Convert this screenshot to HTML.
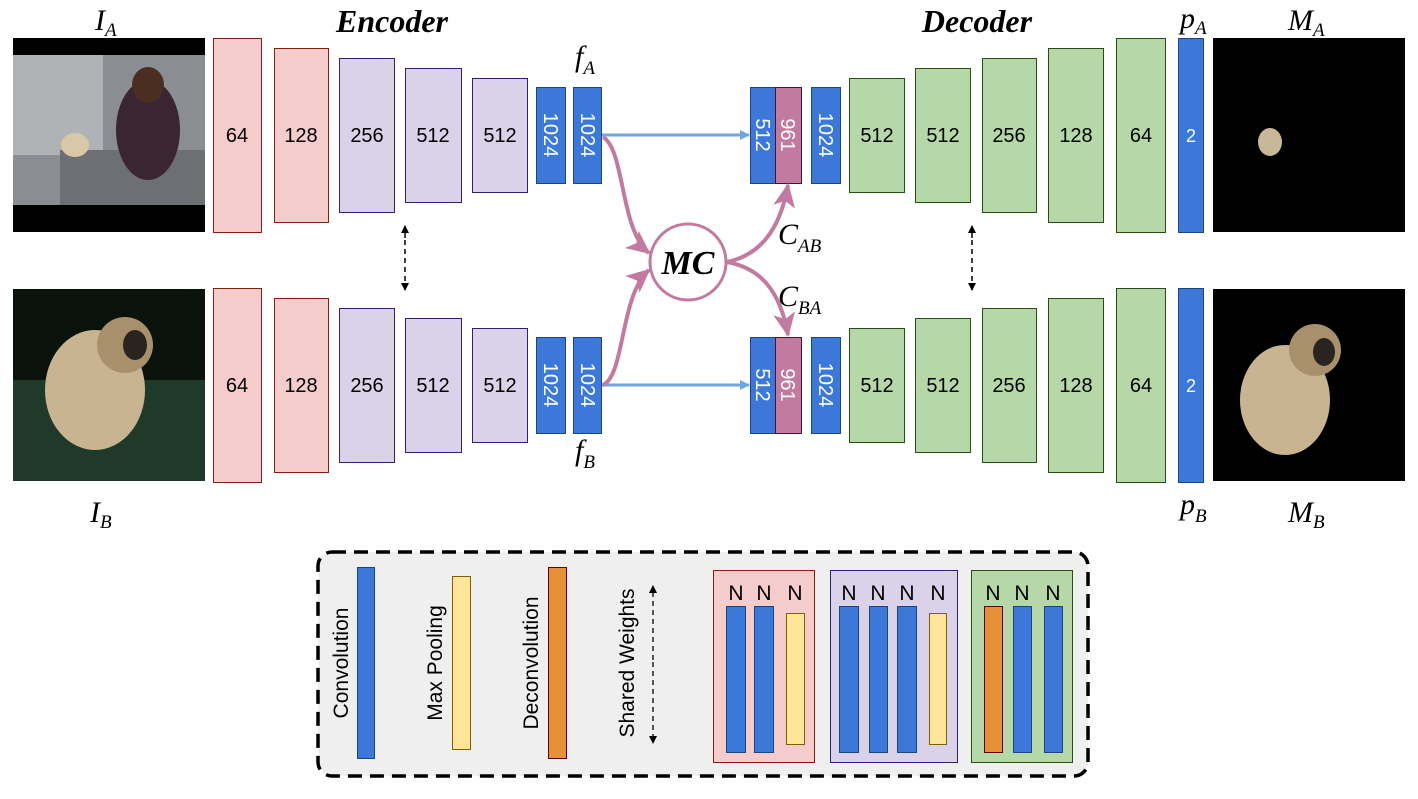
<!DOCTYPE html>
<html><head><meta charset="utf-8"><style>
html,body{margin:0;padding:0;background:#fff}
svg text{font-family:"Liberation Sans",sans-serif}
svg text.s, svg .s text{font-family:"Liberation Serif",serif;font-style:italic}
</style></head><body>
<svg width="1418" height="794" viewBox="0 0 1418 794" xmlns="http://www.w3.org/2000/svg">
<defs>
<marker id="ab" markerWidth="10" markerHeight="10" refX="9" refY="5" orient="auto" markerUnits="userSpaceOnUse"><path d="M0,0 L10,5 L0,10 Z" fill="#6fa8dc"/></marker>
<marker id="ap" markerWidth="26" markerHeight="26" refX="22" refY="13" orient="auto" markerUnits="userSpaceOnUse"><path d="M0,2 L24,13 L0,24 L6,13 Z" fill="#c27ba0"/></marker>
<marker id="ak" markerWidth="8" markerHeight="8" refX="7" refY="4" orient="auto" markerUnits="userSpaceOnUse"><path d="M0,0 L8,4 L0,8 Z" fill="#000"/></marker>
</defs>

<text x="392" y="32" font-size="32" font-weight="bold" class="s" text-anchor="middle">Encoder</text>
<text x="977" y="32" font-size="32" font-weight="bold" class="s" text-anchor="middle">Decoder</text>
<g font-size="30" class="s">
<text x="95" y="30">I<tspan font-size="19" dy="6">A</tspan></text>
<text x="1288" y="30">M<tspan font-size="19" dy="6">A</tspan></text>
<text x="1180" y="28">p<tspan font-size="19" dy="6">A</tspan></text>
<text x="90" y="522">I<tspan font-size="19" dy="6">B</tspan></text>
<text x="1288" y="522">M<tspan font-size="19" dy="6">B</tspan></text>
<text x="1180" y="514">p<tspan font-size="19" dy="8">B</tspan></text>
<text x="575" y="66">f<tspan font-size="19" dy="8">A</tspan></text>
<text x="575" y="460">f<tspan font-size="19" dy="8">B</tspan></text>
<text x="778" y="244">C<tspan font-size="19" dy="8">AB</tspan></text>
<text x="778" y="306">C<tspan font-size="19" dy="8">BA</tspan></text>
</g>

<rect x="13" y="38" width="192" height="194" fill="#000"/>
<rect x="13" y="55" width="192" height="150" fill="#8a8e92"/>
<rect x="13" y="55" width="90" height="100" fill="#b0b3b6"/>
<rect x="60" y="150" width="145" height="55" fill="#6c7074"/>
<ellipse cx="148" cy="130" rx="32" ry="50" fill="#3a2535"/>
<ellipse cx="148" cy="85" rx="16" ry="18" fill="#4a2e22"/>
<ellipse cx="75" cy="145" rx="14" ry="12" fill="#d8c8a8"/>
<rect x="13" y="289" width="192" height="192" fill="#0a120c"/>
<rect x="13" y="380" width="192" height="101" fill="#1f3a28"/>
<ellipse cx="95" cy="390" rx="50" ry="60" fill="#c8b490"/>
<ellipse cx="125" cy="345" rx="28" ry="28" fill="#a8906c"/>
<ellipse cx="135" cy="345" rx="12" ry="15" fill="#2a2420"/>
<rect x="1213" y="38" width="192" height="194" fill="#000"/>
<ellipse cx="1270" cy="142" rx="12" ry="14" fill="#c8b898"/>
<rect x="1213" y="289" width="192" height="192" fill="#000"/>
<ellipse cx="1285" cy="400" rx="45" ry="55" fill="#c8b490"/>
<ellipse cx="1315" cy="350" rx="26" ry="26" fill="#a8906c"/>
<ellipse cx="1324" cy="352" rx="11" ry="14" fill="#2a2420"/>

<g id="row">
<g stroke-width="1">
<rect x="213.5" y="38.5" width="48" height="194" fill="#f4cccc" stroke="#85200c"/>
<rect x="274.5" y="48.5" width="54" height="174" fill="#f4cccc" stroke="#85200c"/>
<rect x="339.5" y="58.5" width="55" height="154" fill="#d9d2e9" stroke="#351c75"/>
<rect x="405.5" y="68.5" width="56" height="134" fill="#d9d2e9" stroke="#351c75"/>
<rect x="472.5" y="78.5" width="55" height="114" fill="#d9d2e9" stroke="#351c75"/>
<rect x="536.5" y="87.5" width="29" height="96" fill="#3c78d8" stroke="#1c4587"/>
<rect x="573.5" y="87.5" width="28" height="96" fill="#3c78d8" stroke="#1c4587"/>
<rect x="750.5" y="87.5" width="25" height="96" fill="#3c78d8" stroke="#1c4587"/>
<rect x="775.5" y="87.5" width="26" height="96" fill="#c27ba0" stroke="#4c1130"/>
<rect x="811.5" y="87.5" width="29" height="96" fill="#3c78d8" stroke="#1c4587"/>
<rect x="849.5" y="78.5" width="55" height="114" fill="#b6d7a8" stroke="#274e13"/>
<rect x="915.5" y="68.5" width="55" height="134" fill="#b6d7a8" stroke="#274e13"/>
<rect x="982.5" y="58.5" width="54" height="154" fill="#b6d7a8" stroke="#274e13"/>
<rect x="1048.5" y="48.5" width="55" height="174" fill="#b6d7a8" stroke="#274e13"/>
<rect x="1116.5" y="38.5" width="49" height="194" fill="#b6d7a8" stroke="#274e13"/>
<rect x="1178.5" y="38.5" width="25" height="194" fill="#3c78d8" stroke="#1c4587"/>
</g>
<g font-size="20" text-anchor="middle">
<text x="237" y="142">64</text><text x="301" y="142">128</text><text x="367" y="142">256</text>
<text x="433" y="142">512</text><text x="500" y="142">512</text>
<text x="877" y="142">512</text><text x="943" y="142">512</text><text x="1009" y="142">256</text>
<text x="1076" y="142">128</text><text x="1141" y="142">64</text>
<text x="1191" y="142" fill="#fff" font-size="18">2</text>
</g>
<g font-size="20" fill="#fff" text-anchor="middle">
<text transform="translate(544,135) rotate(90)">1024</text>
<text transform="translate(581,135) rotate(90)">1024</text>
<text transform="translate(756,135) rotate(90)">512</text>
<text transform="translate(781,135) rotate(90)">961</text>
<text transform="translate(819,135) rotate(90)">1024</text>
</g>
<line x1="602" y1="135" x2="749" y2="135" stroke="#6fa8dc" stroke-width="3" marker-end="url(#ab)"/>
</g>
<use href="#row" y="250"/>

<circle cx="688" cy="262" r="38" fill="#fff" stroke="#c27ba0" stroke-width="3"/>
<text x="688" y="274" font-size="34" font-weight="bold" class="s" text-anchor="middle">MC</text>
<g fill="none" stroke="#c27ba0" stroke-width="4">
<path d="M603,137 C625,150 620,230 649,253" marker-end="url(#ap)"/>
<path d="M603,385 C625,375 620,295 649,270" marker-end="url(#ap)"/>
<path d="M727,262 C760,255 780,230 788,185" marker-end="url(#ap)"/>
<path d="M727,262 C760,268 780,290 788,335" marker-end="url(#ap)"/>
</g>
<g stroke="#000" stroke-width="1.5" stroke-dasharray="5,4">
<line x1="405" y1="238" x2="405" y2="226" marker-end="url(#ak)"/>
<line x1="405" y1="240" x2="405" y2="290" marker-end="url(#ak)"/>
<line x1="972" y1="238" x2="972" y2="226" marker-end="url(#ak)"/>
<line x1="972" y1="240" x2="972" y2="290" marker-end="url(#ak)"/>
</g>

<rect x="318" y="552" width="770" height="224" rx="14" fill="#efefef" stroke="#000" stroke-width="3.5" stroke-dasharray="14,8"/>
<rect x="357.5" y="567.5" width="17" height="191" fill="#3c78d8" stroke="#1c4587"/>
<rect x="452.5" y="576.5" width="18" height="173" fill="#ffe599" stroke="#7f6000"/>
<rect x="548.5" y="567.5" width="18" height="191" fill="#e69138" stroke="#660000"/>
<g font-size="21">
<text transform="translate(348,663) rotate(-90)" text-anchor="middle">Convolution</text>
<text transform="translate(442,663) rotate(-90)" text-anchor="middle">Max Pooling</text>
<text transform="translate(538,663) rotate(-90)" text-anchor="middle">Deconvolution</text>
<text transform="translate(634,663) rotate(-90)" text-anchor="middle">Shared Weights</text>
</g>
<g stroke="#000" stroke-width="1.3" stroke-dasharray="5,4">
<line x1="653" y1="660" x2="653" y2="586" marker-end="url(#ak)"/>
<line x1="653" y1="662" x2="653" y2="743" marker-end="url(#ak)"/>
</g>
<rect x="713.5" y="570.5" width="101" height="192" fill="#f4cccc" stroke="#85200c"/>
<rect x="830.5" y="570.5" width="127" height="192" fill="#d9d2e9" stroke="#351c75"/>
<rect x="971.5" y="570.5" width="101" height="192" fill="#b6d7a8" stroke="#274e13"/>
<g stroke="#1c4587" fill="#3c78d8">
<rect x="726.5" y="606.5" width="19" height="146"/><rect x="754.5" y="606.5" width="19" height="146"/>
<rect x="839.5" y="606.5" width="19" height="146"/><rect x="869.5" y="606.5" width="18" height="146"/><rect x="897.5" y="606.5" width="19" height="146"/>
<rect x="1013.5" y="606.5" width="18" height="146"/><rect x="1044.5" y="606.5" width="18" height="146"/>
</g>
<rect x="786.5" y="613.5" width="18" height="131" fill="#ffe599" stroke="#7f6000"/>
<rect x="929.5" y="613.5" width="17" height="131" fill="#ffe599" stroke="#7f6000"/>
<rect x="984.5" y="606.5" width="18" height="146" fill="#e69138" stroke="#660000"/>
<g font-size="21" text-anchor="middle">
<text x="736" y="600">N</text><text x="764" y="600">N</text><text x="795" y="600">N</text>
<text x="849" y="600">N</text><text x="878" y="600">N</text><text x="907" y="600">N</text><text x="938" y="600">N</text>
<text x="993" y="600">N</text><text x="1022" y="600">N</text><text x="1053" y="600">N</text>
</g>
</svg>
</body></html>
